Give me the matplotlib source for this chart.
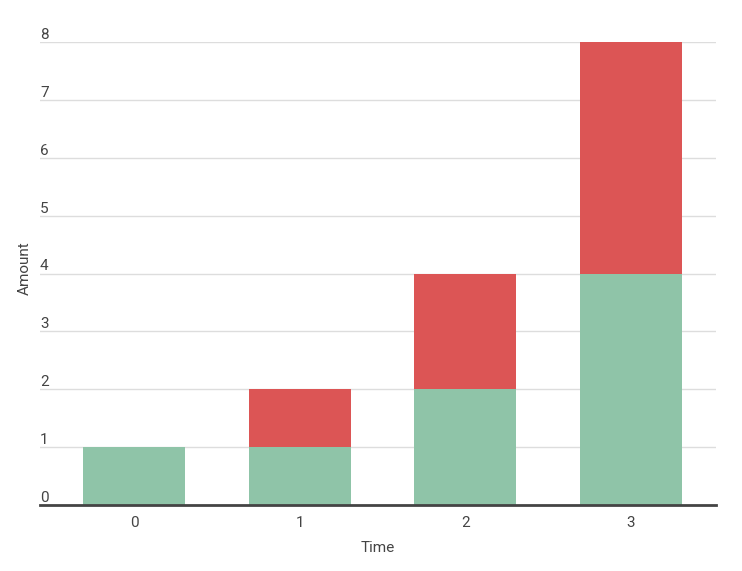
import matplotlib.pyplot as plt
import numpy as np

times = [0, 1, 2, 3]
green_vals = [1, 1, 2, 4]
red_vals = [0, 1, 2, 4]
y_ticks = [0, 1, 2, 3, 4, 5, 6, 7, 8]

plt.rcParams['font.family'] = ['Roboto', 'DejaVu Sans']

fig = plt.figure(figsize=(7.42, 5.71), dpi=100)
ax = fig.add_axes([40 / 742, 66 / 571, 676 / 742, 463 / 571])

x = np.arange(len(times))
width = 0.615
ax.bar(x, green_vals, width, color='#8fc4a8', zorder=2)
ax.bar(x, red_vals, width, bottom=green_vals, color='#dc5555', zorder=2)

ax.set_xlim(-0.567, 3.513)
ax.set_ylim(0, 8)

for t in y_ticks[1:]:
    ax.axhline(t, color='#dddddd', linewidth=1, zorder=1)
ax.axhline(0, color='#444444', linewidth=2, zorder=3, clip_on=False)

for spine in ax.spines.values():
    spine.set_visible(False)

ax.set_yticks([])
for t in y_ticks:
    ax.text(0, t, str(t), transform=ax.get_yaxis_transform(), ha='left', va='bottom',
            fontsize=11, color='#444444')

ax.set_xticks(x)
ax.set_xticklabels([str(t) for t in times], fontsize=11, color='#444444')
ax.tick_params(axis='x', length=0, pad=8)

ax.set_xlabel('Time', fontsize=11, color='#444444', labelpad=8)
fig.text(25 / 742, 1 - 268 / 571, 'Amount', rotation=90, ha='center', va='center',
         fontsize=11, color='#444444')

plt.savefig('out.png', dpi=100)
